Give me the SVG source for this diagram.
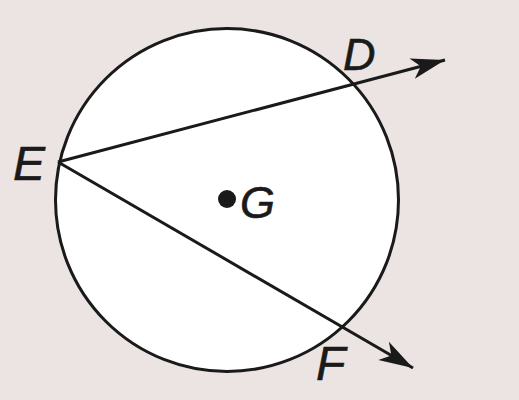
<svg xmlns="http://www.w3.org/2000/svg" width="519" height="400" viewBox="0 0 519 400">
<style>
.lbl{font-family:"Liberation Sans",Arial,sans-serif;font-style:italic;font-size:48px;fill:#1a1a1a;stroke:#1a1a1a;stroke-width:0.6}
.ray{stroke:#1a1a1a;stroke-width:3;fill:none;marker-end:url(#arrow)}
</style>
<defs>
<marker id="arrow" markerUnits="userSpaceOnUse" viewBox="-36 -12 38 24" refX="0" refY="0" markerWidth="38" markerHeight="24" orient="auto">
<path d="M0,0 L-34,-10.5 L-25,0 L-34,10.5 Z" fill="#1a1a1a"/>
</marker>
</defs>
<rect width="519" height="400" fill="#ebe4e3"/>
<g id="circle">
<circle cx="227" cy="200" r="171.5" fill="#ffffff" stroke="#1a1a1a" stroke-width="3"/>
</g>
<g id="connectors">
<line class="ray" x1="58" y1="162" x2="445" y2="60"/>
<line class="ray" x1="58" y1="162" x2="413" y2="368"/>
</g>
<g id="G">
<circle cx="227" cy="199" r="9" fill="#1a1a1a"/>
<text class="lbl" x="240" y="218" style="font-size:45px">G</text>
</g>
<g id="E"><text class="lbl" x="13" y="180">E</text></g>
<g id="D"><text class="lbl" x="343" y="70" style="font-size:45px">D</text></g>
<g id="F"><text class="lbl" x="316" y="380">F</text></g>
</svg>
